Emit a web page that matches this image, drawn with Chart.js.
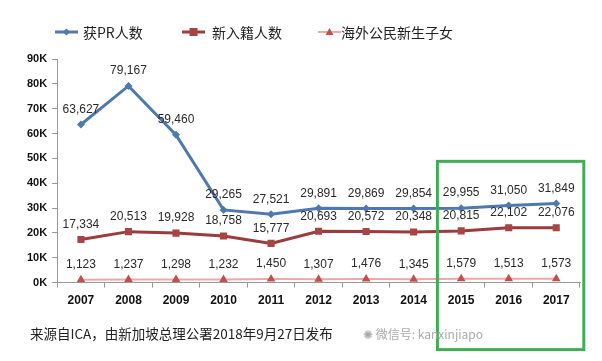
<!DOCTYPE html>
<html><head><meta charset="utf-8">
<script src="https://cdn.jsdelivr.net/npm/chart.js@4"></script>
<style>
html,body{margin:0;padding:0;background:#fff;}
#wrap{position:relative;width:602px;height:361px;}
#foot{position:absolute;left:30px;top:323px;font:13.5px "Noto Sans CJK SC";color:#222;white-space:nowrap;}
#wm{position:absolute;left:363px;top:325px;font:12px "Noto Sans CJK SC";color:#aaa;white-space:nowrap;}
</style></head>
<body><div id="wrap"><canvas id="c" width="602" height="361"></canvas>
<div id="foot">来源自ICA，由新加坡总理公署2018年9月27日发布</div>
<div id="wm">✺ 微信号: kanxinjiapo</div></div>
<script>
const years = ['2007','2008','2009','2010','2011','2012','2013','2014','2015','2016','2017'];
const prValues = [63627,79167,59460,29265,27521,29891,29869,29854,29955,31050,31849];
const citizenValues = [17334,20513,19928,18758,15777,20693,20572,20348,20815,22102,22076];
const overseasBirths = [1123,1237,1298,1232,1450,1307,1476,1345,1579,1513,1573];
const seriesNames = ['获PR人数','新入籍人数','海外公民新生子女'];

const styles=[
  {line:'#4f79ad',mark:'#4f79ad',lw:3,shape:'diamond'},
  {line:'#9c3b3b',mark:'#a84444',lw:3,shape:'rect'},
  {line:'#eaa9a9',mark:'#c0504d',lw:2,shape:'tri'}
];
function drawMark(g,shape,x,y,color){
  g.fillStyle=color;g.beginPath();
  if(shape==='diamond'){g.moveTo(x,y-3.5);g.lineTo(x+3.5,y);g.lineTo(x,y+3.5);g.lineTo(x-3.5,y);}
  else if(shape==='rect'){g.rect(x-4,y-4,8,8);}
  else {g.moveTo(x,y-4);g.lineTo(x+4,y+3);g.lineTo(x-4,y+3);}
  g.closePath();g.fill();
}
const legendPos=[{ix:55,tx:83},{ix:182,tx:212},{ix:318,tx:341}];

const labelPlugin={id:'labels',afterDatasetsDraw(chart){
  const ctx=chart.ctx;ctx.save();
  ctx.font='12px "Liberation Sans"';ctx.fillStyle='#2a2a2a';ctx.textAlign='center';ctx.textBaseline='middle';
  chart.data.datasets.forEach((ds,i)=>{
    const meta=chart.getDatasetMeta(i);
    meta.data.forEach((p,j)=>{
      ctx.fillText(ds.data[j].toLocaleString('en-US'),p.x,p.y-15);
    });
  });
  // green highlight box
  const xs=chart.scales.x, ys=chart.scales.y;
  const l=(xs.getPixelForValue(7)+xs.getPixelForValue(8))/2;
  const r=xs.getPixelForValue(10)+(xs.getPixelForValue(10)-xs.getPixelForValue(9))*0.58;
  const t=ys.getPixelForValue(48800);
  const b=ys.getPixelForValue(0)+67;
  ctx.strokeStyle='#3fae55';ctx.lineWidth=3;ctx.strokeRect(l,t,r-l,b-t);
  // legend
  ctx.textAlign='left';ctx.font='14px "Noto Sans CJK SC"';ctx.fillStyle='#222';
  chart.data.datasets.forEach((ds,i)=>{
    const s=styles[i],p=legendPos[i],y=32;
    ctx.strokeStyle=s.line;ctx.lineWidth=s.lw;ctx.beginPath();ctx.moveTo(p.ix,y);ctx.lineTo(p.ix+23,y);ctx.stroke();
    drawMark(ctx,s.shape,p.ix+11.5,y,s.mark);
    ctx.fillStyle='#222';ctx.fillText(ds.label,p.tx,y+1);
  });
  ctx.restore();
}};

new Chart(document.getElementById('c'),{
  type:'line',
  data:{labels:years,datasets:[
    {label:seriesNames[0],data:prValues,borderColor:styles[0].line,backgroundColor:styles[0].mark,borderWidth:3,pointStyle:'rectRot',pointRadius:4,pointBackgroundColor:styles[0].mark,pointBorderWidth:0},
    {label:seriesNames[1],data:citizenValues,borderColor:styles[1].line,backgroundColor:styles[1].mark,borderWidth:3,pointStyle:'rect',pointRadius:5,pointBackgroundColor:styles[1].mark,pointBorderWidth:0},
    {label:seriesNames[2],data:overseasBirths,borderColor:styles[2].line,backgroundColor:styles[2].mark,borderWidth:2,pointStyle:'triangle',pointRadius:5,pointBackgroundColor:styles[2].mark,pointBorderWidth:0}
  ]},
  options:{responsive:false,animation:false,
    layout:{padding:{left:22,right:22,top:59,bottom:47}},
    plugins:{tooltip:{enabled:false},legend:{display:false}},
    scales:{
      x:{offset:true,grid:{display:true,drawOnChartArea:false,offset:true,tickLength:5,color:'#999'},border:{color:'#999'},
        ticks:{color:'#111',font:{family:'"Liberation Sans"',size:12,weight:'bold'},padding:6,maxRotation:0}},
      y:{min:0,max:90000,grid:{drawOnChartArea:false,tickLength:5,color:'#999'},border:{color:'#999'},
        ticks:{stepSize:10000,color:'#111',font:{family:'"Liberation Sans"',size:11,weight:'bold'},padding:5,callback:v=>(v/1000)+'K'}}
    }
  },
  plugins:[labelPlugin]
});
</script></body></html>
